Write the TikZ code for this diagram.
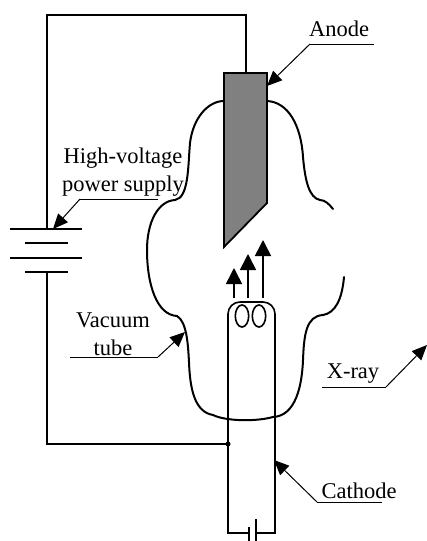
\documentclass[tikz,border=0pt]{standalone}
\usepackage{fontspec}
\setmainfont{Liberation Serif}
\usetikzlibrary{positioning,arrows.meta}
\tikzset{
  wire/.style={line width=1.6pt},
  tube/.style={line width=2pt, line cap=round},
  plate/.style={line width=2pt},
  leader/.style={line width=1pt, -{Triangle[length=15pt, width=13pt]}},
  ray/.style={line width=1.6pt, -{Triangle[length=16pt, width=16pt]}},
  rule/.style={line width=1pt},
  caption/.style={font=\fontsize{22.5}{28}\selectfont, align=center, inner sep=0pt}
}
\begin{document}
\begin{tikzpicture}[x=1pt, y=-1pt]
  \useasboundingbox (0,0) rectangle (427,541);
  % tube
  \draw[tube] (224,101) .. controls (208,101) and (193,118) .. (190,143)
    .. controls (188,165) and (189,198) .. (175,200)
    .. controls (158,201) and (147,222) .. (147,250)
    .. controls (147,285) and (157,315) .. (177,316)
    .. controls (187,322) and (188,345) .. (189,362)
    .. controls (190,390) and (195,412) .. (213,415)
    .. controls (225,421) and (255,422) .. (273,417)
    .. controls (296,416) and (302,385) .. (303,360)
    .. controls (304,335) and (306,316) .. (323,315)
    .. controls (335,313) and (342,300) .. (344,277);
  \draw[tube] (267,101) .. controls (288,102) and (301,125) .. (303,157)
    .. controls (305,180) and (309,198) .. (320,200)
    .. controls (325,200) and (329,204) .. (333,209);
  % anode
  \coordinate (anodetl) at (224,73);
  \coordinate (anodetr) at (267,73);
  \coordinate (anodebr) at (267,203);
  \coordinate (anodetip) at (224,247);
  \coordinate (anodetop) at (246,73);
  \filldraw[fill=black!50, line width=1.8pt] (anodetl) -- (anodetr) -- (anodebr) -- (anodetip) -- cycle;
  % supply
  \coordinate (wiretl) at (47,15);
  \coordinate (wiretr) at (246,15);
  \coordinate (battop) at (47,229);
  \coordinate (batbot) at (47,272);
  \coordinate (wirebl) at (47,444);
  \coordinate (junction) at (228,444);
  \draw[wire] (anodetop) -- (wiretr) -- (wiretl) -- (battop);
  \draw[wire] (batbot) -- (wirebl) -- (junction);
  \fill (junction) circle (2.5pt);
  \draw[plate] (10,229) -- (82,229);
  \draw[plate] (25,243) -- (68,243);
  \draw[plate] (10,258) -- (82,258);
  \draw[plate] (25,272) -- (68,272);
  % cathode
  \draw[wire] (249,533) -- (228,533) -- (228,314) arc[start angle=180, end angle=90, radius=12pt] -- (263,302) arc[start angle=90, end angle=0, radius=12pt] -- (275,533) -- (256,533);
  \draw[wire] (249,527) -- (249,541);
  \draw[wire] (256,519) -- (256,541);
  \draw[wire] (242,316) circle[x radius=6.7pt, y radius=11pt];
  \draw[wire] (259,316) circle[x radius=6.7pt, y radius=11pt];
  % rays
  \coordinate (rayabot) at (234,298);
  \coordinate (raybbot) at (248,298);
  \coordinate (raycbot) at (263,298);
  \coordinate (rayatop) at (234,268);
  \coordinate (raybtop) at (248,254);
  \coordinate (rayctop) at (263,240);
  \draw[ray] (rayabot) -- (rayatop);
  \draw[ray] (raybbot) -- (raybtop);
  \draw[ray] (raycbot) -- (rayctop);
  % labels
  \node[caption] (anodetext) at (339,29) {Anode};
  \node[caption] (supplytext) at (123,172) {High-voltage\\power supply};
  \node[caption] (tubetext) at (113,334) {Vacuum\\tube};
  \node[caption] (xraytext) at (353,374) {X-ray};
  \node[caption] (cathodetext) at (359,491) {Cathode};
  % leaders
  \coordinate (anodeA) at (374,44);
  \coordinate (anodeB) at (310,44);
  \coordinate (anodeC) at (267,86);
  \coordinate (supplyA) at (158,199);
  \coordinate (supplyB) at (80,199);
  \coordinate (supplyC) at (53,229);
  \coordinate (tubeA) at (70,357);
  \coordinate (tubeB) at (158,357);
  \coordinate (tubeC) at (185,332);
  \coordinate (xrayA) at (322,387);
  \coordinate (xrayB) at (386,387);
  \coordinate (xrayC) at (427,345);
  \coordinate (cathodeA) at (382,502);
  \coordinate (cathodeB) at (317,502);
  \coordinate (cathodeC) at (274,460);
  \draw[rule] (anodeA) -- (anodeB);
  \draw[leader] (anodeB) -- (anodeC);
  \draw[rule] (supplyA) -- (supplyB);
  \draw[leader] (supplyB) -- (supplyC);
  \draw[rule] (tubeA) -- (tubeB);
  \draw[leader] (tubeB) -- (tubeC);
  \draw[rule] (xrayA) -- (xrayB);
  \draw[leader] (xrayB) -- (xrayC);
  \draw[rule] (cathodeA) -- (cathodeB);
  \draw[leader] (cathodeB) -- (cathodeC);
\end{tikzpicture}
\end{document}
